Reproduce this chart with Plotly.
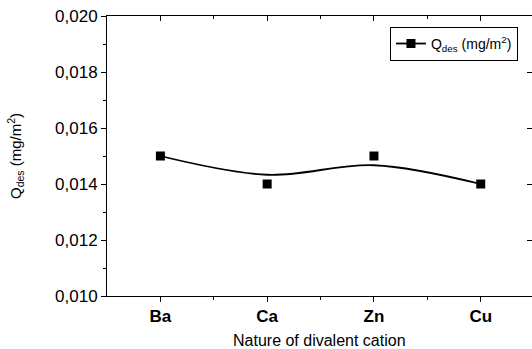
import numpy as np
import plotly.graph_objects as go

categories = ["Ba", "Ca", "Zn", "Cu"]
q_des = [0.015, 0.014, 0.015, 0.014]
y_ticks = [0.010, 0.012, 0.014, 0.016, 0.018, 0.020]
y_tick_labels = ["0,010", "0,012", "0,014", "0,016", "0,018", "0,020"]

# Smoothed curve (Origin-like B-spline smoothing): interior points relaxed
# toward the mean of their neighbours, end points kept.
y = np.array(q_des, dtype=float)
smooth = y.copy()
s = 0.33
for i in range(1, len(y) - 1):
    smooth[i] = y[i] + s * ((y[i - 1] + y[i + 1]) / 2 - y[i])

xi = np.arange(len(categories))
font = "Arial, Liberation Sans, sans-serif"

fig = go.Figure()
fig.add_trace(go.Scatter(x=xi, y=smooth, mode="lines",
                         line=dict(color="black", width=1.8, shape="spline", smoothing=1.0),
                         showlegend=False, hoverinfo="skip"))
fig.add_trace(go.Scatter(x=xi, y=q_des, mode="markers",
                         marker=dict(symbol="square", size=9, color="black"),
                         showlegend=False))
fig.add_trace(go.Scatter(x=[None], y=[None], mode="lines+markers",
                         line=dict(color="black", width=1.8),
                         marker=dict(symbol="square", size=9, color="black"),
                         name="Q<sub>des</sub> (mg/m<sup>2</sup>)"))
fig.add_trace(go.Scatter(x=[None], y=[None], xaxis="x2", yaxis="y2", showlegend=False))

xr = [-0.5, 3.48]
yr = [0.010, 0.020]
fig.update_layout(
    width=532, height=349,
    margin=dict(l=107, r=0, t=16, b=53),
    paper_bgcolor="white", plot_bgcolor="white",
    font=dict(family=font, color="black"),
    xaxis=dict(range=xr, tickmode="array", tickvals=xi,
               ticktext=["<b>%s</b>" % c for c in categories],
               tickfont=dict(size=17), automargin=False,
               ticks="outside", ticklen=5, tickcolor="black", showline=True,
               linecolor="black", linewidth=1, showgrid=False, zeroline=False,
               minor=dict(tickvals=[0.5, 1.5, 2.5], ticks="outside", ticklen=3, tickcolor="black")),
    yaxis=dict(range=yr, tickmode="array", tickvals=y_ticks, ticktext=y_tick_labels,
               tickfont=dict(size=17), automargin=False, ticks="outside", ticklen=5, tickcolor="black",
               showline=True, linecolor="black", linewidth=1, showgrid=False, zeroline=False,
               minor=dict(dtick=0.001, ticks="outside", ticklen=3, tickcolor="black")),
    xaxis2=dict(range=xr, overlaying="x", side="top", tickmode="array", tickvals=xi,
                showticklabels=False, ticks="inside", ticklen=5, tickcolor="black", automargin=False,
                showline=True, linecolor="black", linewidth=1, showgrid=False, zeroline=False,
                minor=dict(tickvals=[0.5, 1.5, 2.5], ticks="inside", ticklen=3, tickcolor="black")),
    yaxis2=dict(range=yr, overlaying="y", side="right", tickmode="array", tickvals=y_ticks,
                showticklabels=False, ticks="inside", ticklen=5, tickcolor="black", automargin=False,
                showline=True, linecolor="black", linewidth=1, showgrid=False, zeroline=False),
    legend=dict(x=0.967, y=0.961, xanchor="right", yanchor="top",
                bordercolor="black", borderwidth=1, bgcolor="white",
                font=dict(size=14), tracegroupgap=0, itemwidth=30),
    annotations=[
        dict(text="Nature of divalent cation", xref="paper", yref="paper",
             x=0.5, y=0, yshift=-44, xanchor="center", yanchor="middle",
             showarrow=False, font=dict(size=16)),
        dict(text="Q<sub>des</sub> (mg/m<sup>2</sup>)", xref="paper", yref="paper",
             x=0, xshift=-92, y=0.5, xanchor="center", yanchor="middle", textangle=-90,
             showarrow=False, font=dict(size=15)),
    ],
)
fig.write_html("out.html", config={"displayModeBar": False})

with open("out.html", "r", encoding="utf-8") as f:
    html = f.read()
html = html.replace("<body>", '<body style="margin:0;overflow:hidden">', 1)
with open("out.html", "w", encoding="utf-8") as f:
    f.write(html)
